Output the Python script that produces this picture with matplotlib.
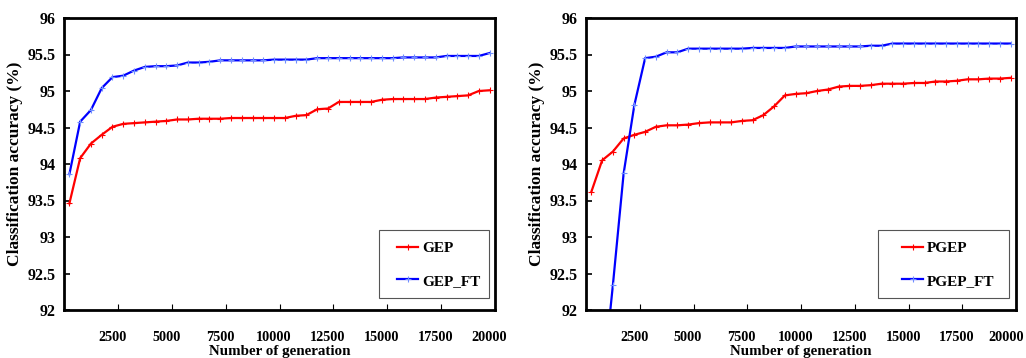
import numpy as np
import matplotlib
matplotlib.use('Agg')
import matplotlib.pyplot as plt
import matplotlib.transforms as mtransforms
from matplotlib.ticker import FixedLocator
from matplotlib.patches import Rectangle

plt.rcParams['font.family'] = ['Liberation Serif', 'DejaVu Serif']
plt.rcParams['font.weight'] = 'bold'

generations = np.arange(500, 20001, 500)

gep = [93.46, 94.08, 94.28, 94.40, 94.51, 94.55, 94.56, 94.57, 94.58, 94.59,
       94.61, 94.61, 94.62, 94.62, 94.62, 94.63, 94.63, 94.63, 94.63, 94.63,
       94.63, 94.66, 94.67, 94.75, 94.76, 94.85, 94.85, 94.85, 94.85, 94.88,
       94.89, 94.89, 94.89, 94.89, 94.91, 94.92, 94.93, 94.94, 95.00, 95.01]
gep_ft = [93.86, 94.58, 94.74, 95.04, 95.19, 95.21, 95.28, 95.33, 95.34, 95.34,
          95.35, 95.39, 95.39, 95.40, 95.42, 95.42, 95.42, 95.42, 95.42, 95.43,
          95.43, 95.43, 95.43, 95.45, 95.45, 95.45, 95.45, 95.45, 95.45, 95.45,
          95.45, 95.46, 95.46, 95.46, 95.46, 95.48, 95.48, 95.48, 95.48, 95.52]

pgep = [93.62, 94.05, 94.17, 94.35, 94.40, 94.44, 94.51, 94.53, 94.53, 94.54,
        94.56, 94.57, 94.57, 94.57, 94.59, 94.60, 94.67, 94.79, 94.94, 94.96,
        94.97, 95.00, 95.02, 95.06, 95.07, 95.07, 95.08, 95.10, 95.10, 95.10,
        95.11, 95.11, 95.13, 95.13, 95.14, 95.16, 95.16, 95.17, 95.17, 95.18]
pgep_ft = [90.0, 90.9, 92.34, 93.87, 94.81, 95.45, 95.47, 95.53, 95.53, 95.58,
           95.58, 95.58, 95.58, 95.58, 95.58, 95.59, 95.59, 95.59, 95.59, 95.61,
           95.61, 95.61, 95.61, 95.61, 95.61, 95.61, 95.62, 95.62, 95.65, 95.65,
           95.65, 95.65, 95.65, 95.65, 95.65, 95.65, 95.65, 95.65, 95.65, 95.65]

xtick_labels = [2500, 5000, 7500, 10000, 12500, 15000, 17500, 20000]
yticks = [92, 92.5, 93, 93.5, 94, 94.5, 95, 95.5, 96]

# (axes x-range px, red series, blue series, names, legend box x-range px, legend handle start px)
panels = [
    ([64, 495], gep, gep_ft, 'GEP', 'GEP_FT', [379, 489], 397),
    ([586, 1016], pgep, pgep_ft, 'PGEP', 'PGEP_FT', [878, 1009], 902),
]

W, H = 1026, 358
fig = plt.figure(figsize=(W / 100, H / 100), dpi=100)

for (xr, red, blue, red_name, blue_name, box_x, hx) in panels:
    ax = fig.add_axes([xr[0] / W, (H - 310) / H, (xr[1] - xr[0]) / W, (310 - 18) / H])
    ax.plot(generations, red, color='#ff0000', lw=1.6, marker='+', ms=4, mew=0.8, label=red_name)
    ax.plot(generations, blue, color='#0000ff', lw=1.6, marker='+', ms=4, mew=0.8,
            mec='#6f8fff', label=blue_name)
    ax.set_xlim(250, 20250)
    ax.set_ylim(92, 96)
    ax.set_yticks(yticks)
    ax.set_yticklabels(['92', '92.5', '93', '93.5', '94', '94.5', '95', '95.5', '96'])
    ax.set_xticks(xtick_labels)
    ax.set_xticklabels([str(v) for v in xtick_labels])
    ax.xaxis.set_minor_locator(FixedLocator([v + 250 for v in xtick_labels[:-1]]))
    ax.tick_params(axis='x', which='major', length=0, pad=15, labelsize=10.3)
    ax.tick_params(axis='x', which='minor', direction='in', length=4, width=0.8)
    ax.tick_params(axis='y', direction='in', length=4, width=1.2, pad=6, labelsize=11.5)
    for s in ax.spines.values():
        s.set_linewidth(2)
    ax.set_ylabel('Classification accuracy (%)', fontsize=12.5, fontweight='bold', labelpad=3)

    # last label of the right panel sits flush with the image edge
    if xr[1] > W - 20:
        last = ax.get_xticklabels()[-1]
        last.set_transform(last.get_transform() + mtransforms.ScaledTranslation(-4 / 100, 0, fig.dpi_scale_trans))

    # legend frame drawn by hand (wide side padding like the original)
    fig.patches.append(Rectangle((box_x[0] / W, (H - 298) / H), (box_x[1] - box_x[0]) / W, 68 / H,
                                 transform=fig.transFigure, fill=False, ec='#555555', lw=0.8))
    leg = ax.legend(loc='center left', frameon=False, fontsize=11, handlelength=1.4,
                    handletextpad=0.25, labelspacing=1.25, borderpad=0.0, borderaxespad=0.0,
                    bbox_to_anchor=((hx - xr[0]) / (xr[1] - xr[0]), (310 - 264.5) / 292))
    fig.text((xr[0] + xr[1]) / 2 / W, (H - 345) / H, 'Number of generation',
             ha='center', va='top', fontsize=10.8, fontweight='bold')

fig.savefig('out.png', dpi=100)
